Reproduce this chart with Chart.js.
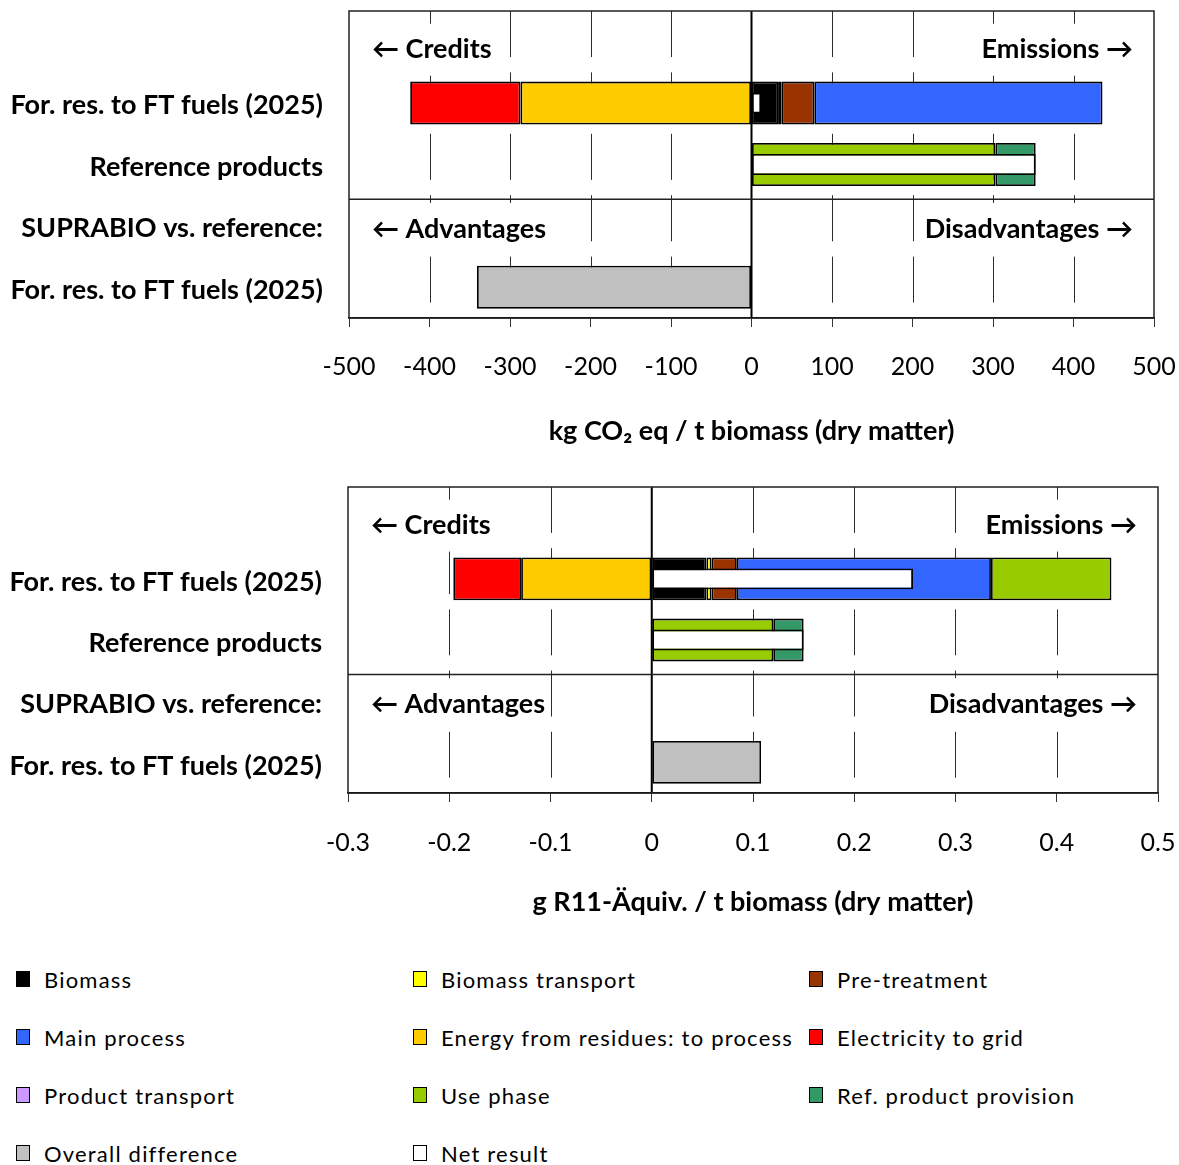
<!DOCTYPE html>
<html>
<head>
<meta charset="utf-8">
<script src="https://cdn.jsdelivr.net/npm/chart.js@4"></script>
<style>
  html, body { margin: 0; padding: 0; background: #fff; }
  body { width: 1179px; height: 1165px; position: relative; overflow: hidden; font-family: Lato, "Open Sans", sans-serif; }
  .box { position: absolute; left: 0; width: 1179px; height: 470px; }
  #legend { position: absolute; left: 16px; top: 950px; display: grid; grid-template-columns: 397px 396px 360px; grid-auto-rows: 58px; }
  .item { display: flex; align-items: center; font-size: 22px; letter-spacing: 1.2px; color: #000; white-space: nowrap; }
  .sw { width: 14px; height: 16px; border: 1.5px solid #000; margin-right: 14px; box-sizing: border-box; }
</style>
</head>
<body>
<div class="box" style="top:0"><canvas id="plot1"></canvas></div>
<div class="box" style="top:470px"><canvas id="plot2"></canvas></div>
<div id="legend"></div>
<script>
// categorias (la primera fila queda vacia, ahi van Credits / Emissions)
const rows = ['', 'For. res. to FT fuels (2025)', 'Reference products', 'SUPRABIO vs. reference:', 'For. res. to FT fuels (2025)'];

const seriesNames = ['Biomass', 'Biomass transport', 'Pre-treatment', 'Main process', 'Energy from residues: to process',
  'Electricity to grid', 'Product transport', 'Use phase', 'Ref. product provision', 'Overall difference', 'Net result'];
const seriesColors = ['#000000', '#FFFF00', '#993300', '#3366FF', '#FFCC00',
  '#FF0000', '#CC99FF', '#99CC00', '#339966', '#C0C0C0', '#FFFFFF'];

// kg CO2 eq / t biomass (dry matter)
const gwpBiomass       = [null,   33, null, null, null];
const gwpTransport     = [null,    4, null, null, null];
const gwpPretreatment  = [null,   41, null, null, null];
const gwpMainProcess   = [null,  358, null, null, null];
const gwpResidues      = [null, -287, null, null, null];
const gwpElectricity   = [null, -137, null, null, null];
const gwpProdTransport = [null, null, null, null, null];
const gwpUsePhase      = [null, null,  303, null, null];
const gwpRefProvision  = [null, null,   50, null, null];
const gwpDifference    = [null, null, null, null, -341];
const gwpNet           = [null,   12,  353, null, null];
const gwpTicks = [-500, -400, -300, -200, -100, 0, 100, 200, 300, 400, 500];

// g R11-Aquiv. / t biomass (dry matter)
const odpBiomass       = [null,  0.054, null, null, null];
const odpTransport     = [null,  0.005, null, null, null];
const odpPretreatment  = [null,  0.025, null, null, null];
const odpMainProcess   = [null,  0.251, null, null, null];
const odpResidues      = [null, -0.129, null, null, null];
const odpElectricity   = [null, -0.067, null, null, null];
const odpProdTransport = [null,   null, null, null, null];
const odpUsePhase      = [null,  0.119, 0.120, null, null];
const odpRefProvision  = [null,   null, 0.030, null, null];
const odpDifference    = [null,   null, null, null, 0.108];
const odpNet           = [null,  0.258, 0.150, null, null];
const odpTicks = [-0.3, -0.2, -0.1, 0, 0.1, 0.2, 0.3, 0.4, 0.5];

const noteRows = [0, 3];
const leftNotes = ['\u2190 Credits', '\u2190 Advantages'];
const rightNotes = ['Emissions \u2192', 'Disadvantages \u2192'];

const FONT = 'Lato, "Open Sans", sans-serif';

let framePlugin = {
  id: 'frame',
  beforeDatasetsDraw(chart) {
    const { ctx, chartArea: a } = chart;
    const x = chart.scales.x, y = chart.scales.y;
    const band = (a.bottom - a.top) / rows.length;
    ctx.save();
    //lineas de grilla cortadas en cada fila
    ctx.strokeStyle = '#2c2c2c';
    ctx.lineWidth = 1;
    x.ticks.forEach(t => {
      if (t.value === 0 || t.value === x.min || t.value === x.max) return;
      const px = Math.round(x.getPixelForValue(t.value)) + 0.5;
      rows.forEach((r, i) => {
        const top = y.getPixelForValue(i) - band / 2;
        ctx.beginPath();
        ctx.moveTo(px, top);
        ctx.lineTo(px, top + band * 0.75);
        ctx.stroke();
      });
    });
    //textos Credits / Emissions con fondo blanco
    ctx.font = 'bold 27px ' + FONT;
    ctx.textBaseline = 'middle';
    noteRows.forEach((row, k) => {
      const py = y.getPixelForValue(row) + (row === 0 ? 8 : 3);
      const wl = ctx.measureText(leftNotes[k]).width;
      const wr = ctx.measureText(rightNotes[k]).width;
      const xl = a.left + 23, xr = a.right - 21;
      ctx.fillStyle = '#fff';
      ctx.fillRect(xl - 3, py - 26, wl + 6, 52);
      ctx.fillRect(xr - wr - 3, py - 26, wr + 6, 52);
      ctx.fillStyle = '#000';
      ctx.textAlign = 'left';
      ctx.fillText(leftNotes[k], xl, py);
      ctx.textAlign = 'right';
      ctx.fillText(rightNotes[k], xr, py);
    });
    //linea del cero
    const zx = x.getPixelForValue(0);
    ctx.strokeStyle = '#000';
    ctx.lineWidth = 2;
    ctx.beginPath();
    ctx.moveTo(zx, a.top);
    ctx.lineTo(zx, a.bottom);
    ctx.stroke();
    ctx.restore();
  },
  afterDatasetsDraw(chart) {
    const { ctx, chartArea: a } = chart;
    const y = chart.scales.y;
    ctx.save();
    ctx.strokeStyle = '#222';
    ctx.lineWidth = 1.5;
    //separador entre resultados y comparacion
    const sy = (y.getPixelForValue(2) + y.getPixelForValue(3)) / 2 + 4;
    ctx.beginPath();
    ctx.moveTo(a.left, sy);
    ctx.lineTo(a.right, sy);
    ctx.stroke();
    ctx.strokeRect(a.left, a.top, a.right - a.left, a.bottom - a.top);
    ctx.restore();
  }
};

let crearGrafico = (id, series, ticks, title, opts) => {
  let plotRef = document.getElementById(id);

  let datasets = series.map((data, i) => {
    const isNet = i === series.length - 1;
    return {
      label: seriesNames[i],
      data: data,
      backgroundColor: seriesColors[i],
      borderColor: '#000',
      borderWidth: 1.8,
      borderSkipped: false,
      stack: isNet ? 'net' : 'main',
      grouped: !isNet,
      order: isNet ? -1 : 0,
      barPercentage: isNet ? 0.34 : 0.7,
      categoryPercentage: 1
    };
  });

  let config = {
    type: 'bar',
    data: { labels: rows, datasets: datasets },
    options: {
      indexAxis: 'y',
      responsive: true,
      maintainAspectRatio: false,
      animation: false,
      layout: { padding: { top: opts.top, right: opts.right, left: 0, bottom: 0 } },
      plugins: { legend: { display: false }, tooltip: { enabled: false } },
      scales: {
        x: {
          type: 'linear',
          stacked: true,
          min: ticks[0],
          max: ticks[ticks.length - 1],
          afterBuildTicks: scale => { scale.ticks = ticks.map(v => ({ value: v })); },
          afterFit: scale => {
            scale.height = opts.xHeight;
            scale.paddingLeft = 0;
            scale.paddingRight = 0;
          },
          grid: { drawOnChartArea: false, drawTicks: true, tickLength: 9, color: '#333', lineWidth: 1 },
          border: { display: true, color: '#000', width: 1.5 },
          ticks: {
            padding: opts.tickPad,
            color: '#000',
            font: { family: FONT, size: 25 },
            callback: v => String(+v.toFixed(1))
          },
          title: {
            display: true,
            text: title,
            color: '#000',
            font: { family: FONT, size: 27, weight: 'bold' },
            padding: { top: 0, bottom: opts.titlePad }
          }
        },
        y: {
          type: 'category',
          stacked: true,
          offset: true,
          afterFit: scale => {
            scale.width = opts.yWidth;
            scale.paddingTop = 0;
            scale.paddingBottom = 0;
          },
          grid: { display: false, drawTicks: false },
          border: { display: false },
          ticks: { padding: 26, labelOffset: opts.labelShift, color: '#000', font: { family: FONT, size: 27, weight: 'bold' } }
        }
      }
    },
    plugins: [framePlugin]
  };

  return new Chart(plotRef, config);
};

let cargarLeyenda = () => {
  let legendRef = document.getElementById('legend');
  seriesNames.forEach((name, i) => {
    legendRef.innerHTML += `<div class="item"><span class="sw" style="background:${seriesColors[i]}"></span>${name}</div>`;
  });
};

crearGrafico('plot1',
  [gwpBiomass, gwpTransport, gwpPretreatment, gwpMainProcess, gwpResidues, gwpElectricity,
   gwpProdTransport, gwpUsePhase, gwpRefProvision, gwpDifference, gwpNet],
  gwpTicks, 'kg CO\u2082 eq / t biomass (dry matter)',
  { top: 11, right: 25, xHeight: 152, yWidth: 349, tickPad: 25, titlePad: 23, labelShift: 2.5 });

crearGrafico('plot2',
  [odpBiomass, odpTransport, odpPretreatment, odpMainProcess, odpResidues, odpElectricity,
   odpProdTransport, odpUsePhase, odpRefProvision, odpDifference, odpNet],
  odpTicks, 'g R11-\u00C4quiv. / t biomass (dry matter)',
  { top: 17, right: 21, xHeight: 147, yWidth: 348, tickPad: 26, titlePad: 22, labelShift: 3.5 });

cargarLeyenda();
</script>
</body>
</html>
